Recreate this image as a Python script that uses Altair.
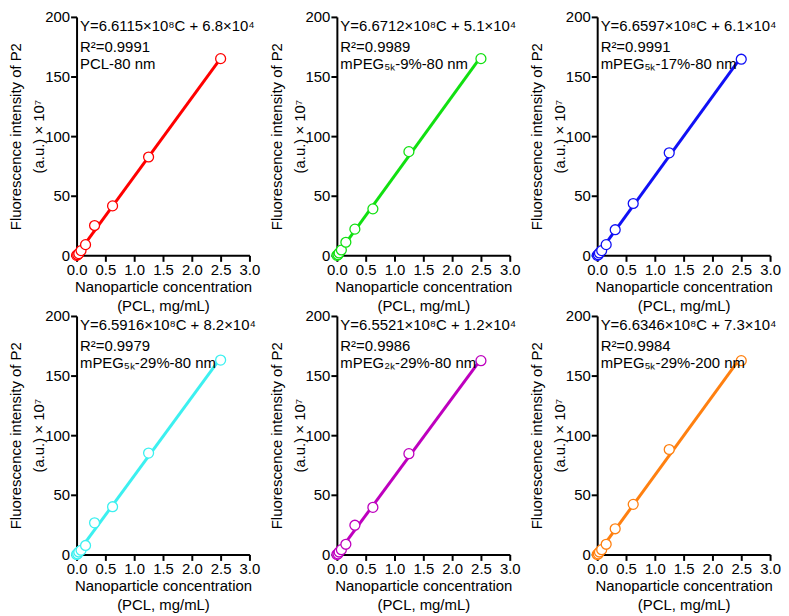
import altair as alt
import pandas as pd

# Concentrations (PCL, mg/mL) - two-fold dilution series
conc = [0, 0.0195, 0.039, 0.078, 0.156, 0.3125, 0.625, 1.25, 2.5]

# Fluorescence intensity of P2 (a.u.) x 10^7
pcl_80 = [0, 0.5, 1.5, 4, 9, 25, 41.5, 82.5, 165]
peg5k_9_80 = [0, 0.5, 2, 4.5, 11, 22, 39, 87, 165]
peg5k_17_80 = [0, 0.5, 2, 4, 9, 21.5, 43.5, 86, 164.5]
peg5k_29_80 = [0, 0.5, 2, 3.5, 7.5, 26.5, 40, 85, 163]
peg2k_29_80 = [0, 0.5, 2, 4, 8.5, 24.5, 39.5, 84.5, 162.5]
peg5k_29_200 = [0, 0.5, 2, 4, 8.5, 21.5, 42, 88, 162.5]

series = [pcl_80, peg5k_9_80, peg5k_17_80, peg5k_29_80, peg2k_29_80, peg5k_29_200]

# Fit coefficients: slope (x10^8), intercept (x10^4), R^2
slopes = ["6.6115", "6.6712", "6.6597", "6.5916", "6.5521", "6.6346"]
intercepts = ["6.8", "5.1", "6.1", "8.2", "1.2", "7.3"]
r2_values = ["0.9991", "0.9989", "0.9991", "0.9979", "0.9986", "0.9984"]
names = ["PCL-80 nm", "mPEG₅ₖ-9%-80 nm", "mPEG₅ₖ-17%-80 nm",
         "mPEG₅ₖ-29%-80 nm", "mPEG₂ₖ-29%-80 nm", "mPEG₅ₖ-29%-200 nm"]
colors = ["#FF0000", "#11E011", "#1010F5", "#3CF0F0", "#BE00BE", "#FF8010"]

x_ticks = [0, 0.5, 1.0, 1.5, 2.0, 2.5, 3.0]
y_ticks = [0, 50, 100, 150, 200]
fit_range = [0, 2.5]

FONT = "Liberation Sans"


def panel(i):
    xenc = alt.X("C:Q", scale=alt.Scale(domain=[0, 3], nice=False),
                 axis=alt.Axis(values=x_ticks, format=".1f",
                               titlePadding=2, titleLineHeight=19,
                               title=["Nanoparticle concentration", "(PCL, mg/mL)"]))
    yenc = alt.Y("F:Q", scale=alt.Scale(domain=[0, 200], nice=False),
                 axis=alt.Axis(values=y_ticks, format="d",
                               titlePadding=-2, titleLineHeight=23,
                               title=["Fluorescence intensity of P2", "(a.u.) × 10⁷"]))
    s = float(slopes[i]) * 10.0
    b = float(intercepts[i]) / 1000.0
    fit = alt.Chart(pd.DataFrame({"C": fit_range})).transform_calculate(
        F=f"{s} * datum.C + {b}"
    ).mark_line(color=colors[i], strokeWidth=3).encode(x=xenc, y=yenc)
    pts = alt.Chart(pd.DataFrame({"C": conc, "F": series[i]})).mark_circle(
        fill="white", stroke=colors[i], strokeWidth=1.3, opacity=1, size=100
    ).encode(x=xenc, y=yenc)
    txt_df = pd.DataFrame({
        "C": [0.06, 0.06, 0.06],
        "F": [192, 175, 160.5],
        "t": [f"Y={slopes[i]}×10⁸C + {intercepts[i]}×10⁴",
              f"R²={r2_values[i]}", names[i]],
    })
    txt = alt.Chart(txt_df).mark_text(
        align="left", baseline="middle", fontSize=15, font=FONT, color="black"
    ).encode(x=xenc, y=yenc, text="t:N")
    return alt.layer(fit, pts, txt).properties(width=174, height=240)


chart = alt.concat(
    *[panel(i) for i in range(6)],
    columns=3, spacing={"row": 61, "column": 88}, bounds="flush",
).properties(
    padding={"left": 0, "top": 0, "right": 0, "bottom": 0}
).configure_view(stroke=None).configure_axis(
    grid=False,
    domainColor="black", domainWidth=2,
    tickColor="black", tickWidth=2, tickSize=6,
    labelFont=FONT, labelFontSize=15, labelColor="black", labelPadding=1,
    labelFlush=False, labelOverlap=False,
    titleFont=FONT, titleFontSize=15, titleFontWeight="normal", titleColor="black",
)

chart.save("out.html", embed_options={"renderer": "svg", "actions": False})
